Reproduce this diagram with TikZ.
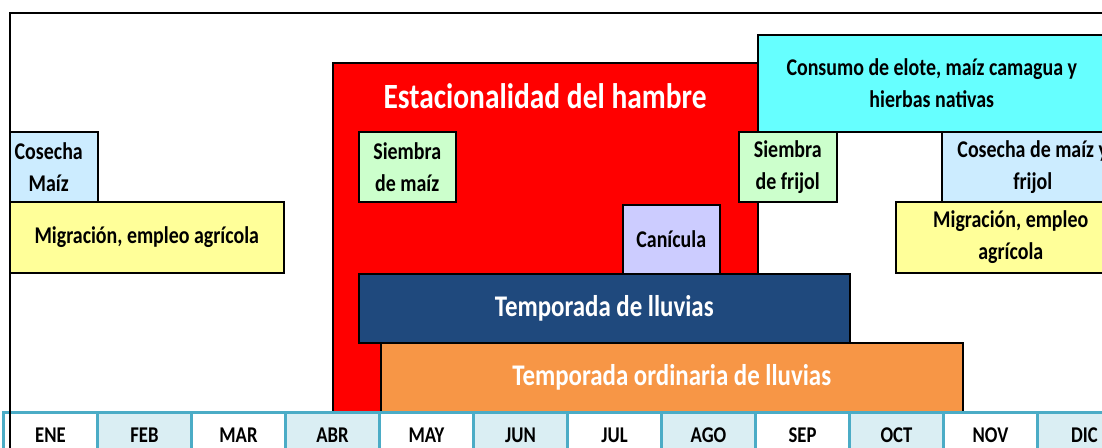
\documentclass[tikz,border=0pt]{standalone}
\usepackage{fontspec}
\setmainfont{Carlito}[FakeStretch=0.83]
\definecolor{hred}{HTML}{FF0000}
\definecolor{hcyan}{HTML}{66FFFF}
\definecolor{hlblue}{HTML}{CCECFF}
\definecolor{hyellow}{HTML}{FFFF99}
\definecolor{hgreen}{HTML}{CCFFCC}
\definecolor{hlav}{HTML}{CCCCFF}
\definecolor{hnavy}{HTML}{1F497D}
\definecolor{horange}{HTML}{F79646}
\definecolor{hteal}{HTML}{4BACC6}
\definecolor{hcell}{HTML}{DAEEF3}
\begin{document}
\begin{tikzpicture}[x=1pt,y=-1pt,
  box/.style={draw=black, line width=1.5pt, rectangle, inner sep=0pt, align=center,
    anchor=north west, font=\bfseries\fontsize{24}{32}\selectfont, text=black},
  bigtxt/.style={font=\bfseries\fontsize{30}{34}\selectfont, text=white},
  month/.style={draw=hteal, line width=3pt, rectangle, anchor=north west, minimum width=94,
    minimum height=46, inner sep=0pt, font=\bfseries\fontsize{22.5}{26}\selectfont},
  mw/.style={month, fill=white},
  mb/.style={month, fill=hcell}]
\useasboundingbox (0,0) rectangle (1102,447);
\fill[white] (0,0) rectangle (1102,447);
% hunger season
\node[box, fill=hred, minimum width=425, minimum height=349] (hunger) at (332,62) {};
\node[bigtxt, font=\bfseries\fontsize{35.5}{40}\selectfont] (huntitle) at (545,96) {Estacionalidad del hambre};
\node[box, fill=hcyan, minimum width=348, minimum height=97] (consumo) at (757,34) {Consumo de elote, maíz camagua y\\hierbas nativas};
\node[box, fill=hlblue, minimum width=88, minimum height=70] (cosecha1) at (9,131) {\hspace*{-10pt}Cosecha\\\hspace*{-10pt}Maíz};
\node[box, fill=hyellow, minimum width=274, minimum height=71] (migr1) at (9,201) {Migración, empleo agrícola};
\node[box, fill=hgreen, minimum width=97, minimum height=70] (smaiz) at (358,131) {Siembra\\de maíz};
\node[box, fill=hgreen, minimum width=98, minimum height=70] (sfrijol) at (738,131) {Siembra\\de frijol};
\node[box, fill=hlblue, minimum width=182, minimum height=70] (cosecha2) at (941,131) {Cosecha de maíz y\\frijol};
\node[box, fill=hyellow, minimum width=230, minimum height=71] (migr2) at (895,201) {Migración, empleo\\agrícola};
\node[box, fill=hlav, minimum width=97, minimum height=69] (canicula) at (622,204) {Canícula};
\node[box, fill=hnavy, minimum width=491, minimum height=69, bigtxt] (lluvias) at (358,273) {Temporada de lluvias};
\node[box, fill=horange, minimum width=582, minimum height=69, bigtxt] (ordinaria) at (380,342) {Temporada ordinaria de lluvias};
% months
\node[mw] (ene) at (2,411) {ENE};
\node[mb] (feb) at (96,411) {FEB};
\node[mw] (mar) at (190,411) {MAR};
\node[mb] (abr) at (284,411) {ABR};
\node[mw] (may) at (378,411) {MAY};
\node[mb] (jun) at (472,411) {JUN};
\node[mw] (jul) at (566,411) {JUL};
\node[mb] (ago) at (660,411) {AGO};
\node[mw] (sep) at (754,411) {SEP};
\node[mb] (oct) at (848,411) {OCT};
\node[mw] (nov) at (942,411) {NOV};
\node[mb] (dic) at (1036,411) {DIC};
% frame
\node[draw=black, line width=2pt, rectangle, anchor=north west, minimum width=1120, minimum height=460] (frame) at (9,12) {};
\end{tikzpicture}
\end{document}
